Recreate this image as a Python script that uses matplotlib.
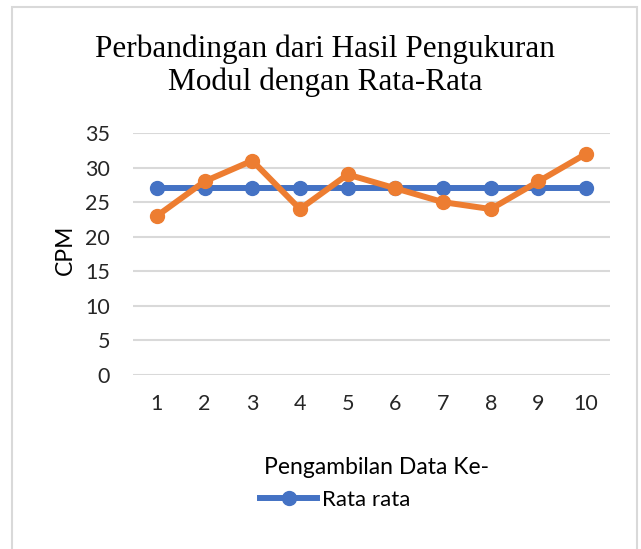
import matplotlib.pyplot as plt
from matplotlib.patches import Rectangle

# data
pengambilan = [1, 2, 3, 4, 5, 6, 7, 8, 9, 10]
rata_rata = [27.1, 27.1, 27.1, 27.1, 27.1, 27.1, 27.1, 27.1, 27.1, 27.1]
modul = [23, 28, 31, 24, 29, 27, 25, 24, 28, 32]
y_ticks = [0, 5, 10, 15, 20, 25, 30, 35]

W, H = 641, 549
fig = plt.figure(figsize=(W / 100, H / 100), dpi=100)

# chart border (Excel style)
fig.patches.append(Rectangle((12 / W, -0.05), 625 / W, 1.05 - 7 / H,
                             transform=fig.transFigure, fill=False,
                             edgecolor='#D9D9D9', linewidth=1.5))

ax = fig.add_axes([133 / W, 1 - 375 / H, 477 / W, 242 / H])

sans = 'Lato'
blue = '#4472C4'
orange = '#ED7D31'

l_avg, = ax.plot(pengambilan, rata_rata, color=blue, lw=4.3, marker='o',
                 markersize=10, label='Rata rata', zorder=3)
ax.plot(pengambilan, modul, color=orange, lw=4.3, marker='o',
        markersize=10, label='Modul', zorder=4)

ax.set_xlim(0.5, 10.5)
ax.set_ylim(0, 35)
ax.set_yticks(y_ticks)
ax.set_xticks(pengambilan)
ax.grid(axis='y', color='#D9D9D9', linewidth=1.5)
ax.set_axisbelow(True)
for s in ax.spines.values():
    s.set_visible(False)
ax.tick_params(axis='y', length=0, labelsize=15.5, labelcolor='#262626', pad=16.5)
ax.tick_params(axis='x', length=0, labelsize=15.5, labelcolor='#262626', pad=14)
for t in ax.get_xticklabels() + ax.get_yticklabels():
    t.set_fontfamily(sans)

fig.text(65 / W, 1 - 250 / H, 'CPM', rotation=90, ha='center', va='center',
         fontsize=16.5, family=sans, color='black')
fig.text(376 / W, 1 - 467 / H, 'Pengambilan Data Ke-', ha='center',
         va='center', fontsize=16.5, family=sans, color='black')
fig.text(325 / W, 1 - 66 / H,
         'Perbandingan dari Hasil Pengukuran\nModul dengan Rata-Rata',
         ha='center', va='center', fontsize=22.5, family='Liberation Serif',
         linespacing=1.15)

fig.legend(handles=[l_avg], loc='center', bbox_to_anchor=(335 / W, 1 - 500 / H),
           frameon=False, prop={'family': sans, 'size': 16}, handlelength=2.6,
           handletextpad=0.2)

fig.savefig('out.png', dpi=100)
